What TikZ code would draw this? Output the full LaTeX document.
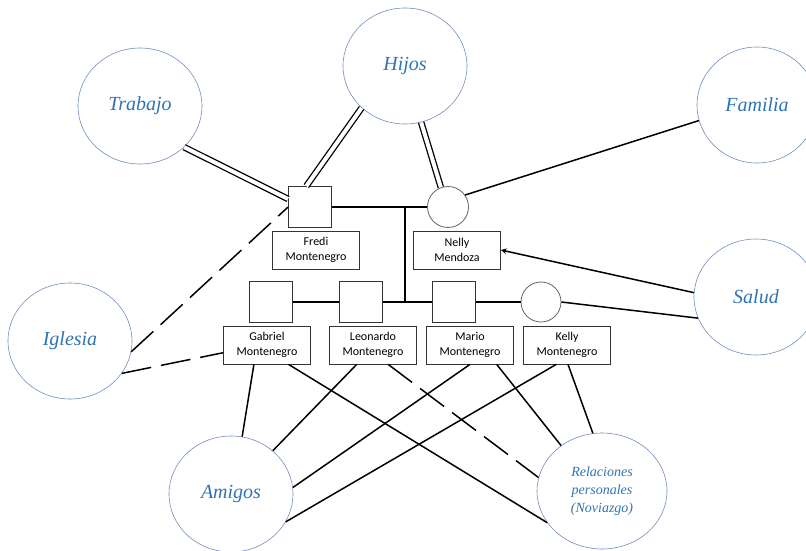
\documentclass[tikz,border=0pt]{standalone}
\usepackage{fontspec}
\setmainfont{Carlito}
\newfontfamily\bubblefont{Liberation Serif}
\usetikzlibrary{shapes,arrows,positioning}
\definecolor{bubbleblue}{RGB}{46,116,181}
\definecolor{bubbleline}{RGB}{112,140,192}

\begin{document}
\begin{tikzpicture}[
    x=1pt, y=-1pt,
    node distance=43pt,
    bubble/.style={ellipse, draw=bubbleline, line width=0.6pt, minimum width=124pt, minimum height=116pt, text=bubbleblue, font=\bubblefont\itshape\fontsize{20}{24}\selectfont},
    male/.style={rectangle, draw=black!80, line width=0.8pt, minimum width=43pt, minimum height=41pt},
    female/.style={circle, draw=black!60, line width=0.8pt, minimum size=41pt},
    namebox/.style={rectangle, draw=black!80, line width=0.8pt, minimum width=87pt, minimum height=38pt, text width=80pt, align=center, inner sep=0pt, font=\fontsize{12}{15}\selectfont},
    link/.style={line width=1.5pt},
    dbl/.style={double, double distance=4pt, line width=1.3pt},
    broken/.style={line width=1.5pt, dash pattern=on 30pt off 10pt},
    arrow/.style={line width=1.5pt,->,>=stealth}
]
\useasboundingbox (0,0) rectangle (806,551);

% Define the surrounding circles
\node [bubble] (trabajo) at (140,106) {Trabajo};
\node [bubble] (hijos) at (405,66) {Hijos};
\node [bubble, minimum width=120pt] (familia) at (757,105) {Familia};
\node [bubble] (iglesia) at (70,341) {Iglesia};
\node [bubble] (salud) at (756,297) {Salud};
\node [bubble] (amigos) at (231,494) {Amigos};
\node [bubble, minimum width=130pt, align=center, font=\bubblefont\itshape\fontsize{14}{18}\selectfont] (relaciones) at (602,491) {Relaciones\\personales\\(Noviazgo)};

% Parents
\node [male] (fredi) at (310,207) {};
\node [female, right of=fredi, node distance=138pt] (nelly) {};

% Children from left to right
\node [male] (gabriel) at (271,302) {};
\node [male, right of=gabriel, node distance=90pt] (leonardo) {};
\node [male, right of=leonardo, node distance=93pt] (mario) {};
\node [female, minimum size=40pt, right of=mario, node distance=87pt] (kelly) {};

% Name boxes below the symbols
\node [namebox, below of=fredi, xshift=6pt] (frediname) {Fredi\\Montenegro};
\node [namebox, below of=nelly, xshift=9pt] (nellyname) {Nelly\\Mendoza};
\node [namebox, below of=gabriel, xshift=-4pt] (gabrielname) {Gabriel\\Montenegro};
\node [namebox, below of=leonardo, xshift=12pt] (leonardoname) {Leonardo\\Montenegro};
\node [namebox, below of=mario, xshift=16pt] (marioname) {Mario\\Montenegro};
\node [namebox, below of=kelly, xshift=26pt] (kellyname) {Kelly\\Montenegro};

% Family lines
\coordinate (pmid) at (405,207);
\coordinate (cmid) at (405,302);
\draw [link] (fredi.east) -- (nelly.west);
\draw [link] (pmid) -- (cmid);
\draw [link] (gabriel.east) -- (leonardo.west);
\draw [link] (leonardo.east) -- (mario.west);
\draw [link] (mario.east) -- (kelly.west);

% Strong ties
\draw [dbl] (trabajo.317) -- (fredi.160);
\draw [dbl] (hijos.224) -- (fredi.100);
\draw [dbl] (hijos.286) -- (nelly.110);

% Other ties
\draw [link] (familia.195) -- (nelly.35);
\draw [arrow] (salud.176) -- (nellyname.east);
\draw [link] (salud.200) -- (kelly.east);
\draw [broken] (iglesia.350) -- (fredi.west);
\draw [broken] (iglesia.328) -- (gabrielname.190);

% Children to friends and relationships
\draw [link] (gabrielname.236) -- (amigos.79);
\draw [link] (gabrielname.318) -- (relaciones.210);
\draw [link] (leonardoname.230) -- (amigos.46);
\draw [broken] (leonardoname.308) -- (relaciones.168);
\draw [link] (marioname.270) -- (amigos.6);
\draw [link] (marioname.324) -- (relaciones.132);
\draw [link] (kellyname.241) -- (amigos.333);
\draw [link] (kellyname.273) -- (relaciones.99);

\end{tikzpicture}
\end{document}
